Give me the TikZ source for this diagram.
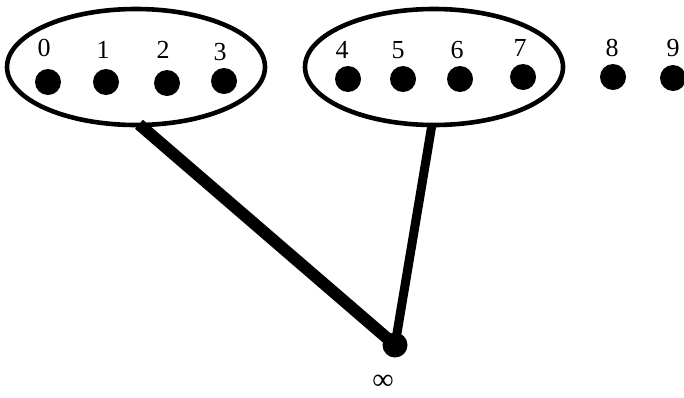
\documentclass[tikz,border=0pt]{standalone}
\usepackage{fontspec}
\setmainfont{Liberation Serif}
\usetikzlibrary{shapes.geometric}
\begin{document}
\begin{tikzpicture}[x=1pt,y=-1pt,
  dot/.style={circle,fill=black,inner sep=0pt,minimum size=26pt},
  lbl/.style={font=\fontsize{26}{26}\selectfont,inner sep=0pt},
  group/.style={ellipse,draw=black,line width=4.6pt,inner sep=0pt,minimum width=258pt,minimum height=116pt},
  edgeA/.style={line width=12pt},
  edgeB/.style={line width=9pt}]
\useasboundingbox (0,0) rectangle (684,397);
\node[group] (L) at (136,67) {};
\node[group] (R) at (434,67) {};
\node[dot] (d0) at (48,82) {};
\node[dot] (d1) at (106,82) {};
\node[dot] (d2) at (167,83) {};
\node[dot] (d3) at (224,81) {};
\node[dot] (d4) at (348,79) {};
\node[dot] (d5) at (403,79) {};
\node[dot] (d6) at (460,79) {};
\node[dot] (d7) at (523,77) {};
\node[dot] (d8) at (613,77) {};
\node[dot] (d9) at (673,78) {};
\node[lbl] (t0) at (44,48) {0};
\node[lbl] (t1) at (103,50) {1};
\node[lbl] (t2) at (163,50) {2};
\node[lbl] (t3) at (220,52) {3};
\node[lbl] (t4) at (342,50) {4};
\node[lbl] (t5) at (398,50) {5};
\node[lbl] (t6) at (457,50) {6};
\node[lbl] (t7) at (520,48) {7};
\node[lbl] (t8) at (612,48) {8};
\node[lbl] (t9) at (673,48) {9};
\node[dot,minimum size=25pt] (inf) at (395,345) {};
\node[inner sep=0pt,font=\fontsize{30}{30}\selectfont] (tinf) at (383,382) {∞};
\draw[edgeA] ([xshift=3pt,yshift=3pt]L.south) -- (inf.center);
\draw[edgeB] ([xshift=-2pt,yshift=3pt]R.south) -- (inf.center);
\end{tikzpicture}
\end{document}
